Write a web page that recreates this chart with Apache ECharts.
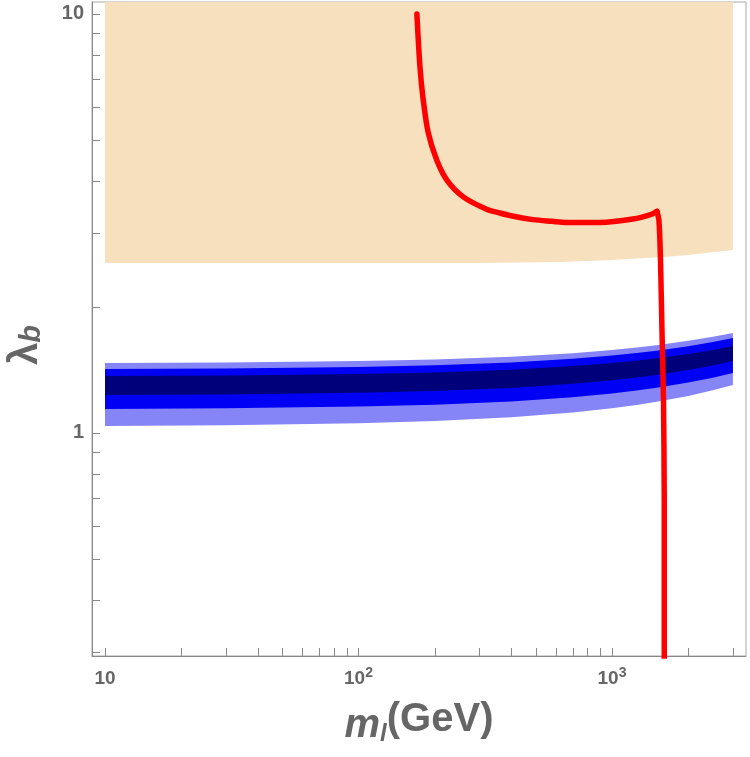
<!DOCTYPE html>
<html>
<head>
<meta charset="utf-8">
<script src="https://cdn.jsdelivr.net/npm/echarts@6/dist/echarts.min.js"></script>
<style>
  html, body { margin: 0; padding: 0; background: #fff; }
  #chart { width: 750px; height: 757px; }
</style>
</head>
<body>
<div id="chart"></div>
<script>
// band masses (GeV) and the edges of the three blue bands
const mBand = [10, 30, 100, 200, 400, 700, 1000, 1250, 1500, 2000, 2500, 3000]
const lightUpper = [1.469, 1.474, 1.485, 1.498, 1.521, 1.550, 1.578, 1.599, 1.620, 1.659, 1.696, 1.733]
const blueUpper = [1.421, 1.426, 1.437, 1.450, 1.473, 1.503, 1.530, 1.551, 1.571, 1.611, 1.648, 1.685]
const darkUpper = [1.368, 1.372, 1.383, 1.395, 1.416, 1.444, 1.469, 1.488, 1.507, 1.544, 1.578, 1.613]
const darkLower = [1.232, 1.236, 1.247, 1.260, 1.281, 1.310, 1.336, 1.356, 1.376, 1.413, 1.449, 1.485]
const blueLower = [1.141, 1.145, 1.156, 1.168, 1.189, 1.217, 1.243, 1.263, 1.282, 1.319, 1.355, 1.390]
const lightLower = [1.039, 1.043, 1.055, 1.068, 1.090, 1.119, 1.145, 1.166, 1.187, 1.226, 1.264, 1.302]

// excluded (tan) region, lower edge
const mTan = [10, 100, 300, 630, 1000, 1600, 2000, 3000]
const tanLower = [2.545, 2.545, 2.545, 2.559, 2.588, 2.630, 2.659, 2.734]

// red contour: curved part, then the near-vertical drop after the kink
const redM = [170, 174.8, 180.1, 188.5, 203.5, 222.8, 259, 320, 361, 408, 488, 580, 664, 897, 1210, 1420, 1505]
const redL = [10, 7.47, 6.23, 5.20, 4.48, 4.02, 3.66, 3.42, 3.35, 3.29, 3.23, 3.20, 3.18, 3.18, 3.24, 3.32, 3.38]
const dropM = [1505, 1532, 1554, 1575, 1597, 1608, 1608]
const dropL = [3.38, 3.22, 2.59, 1.76, 1.20, 0.692, 0.28]

// tick values
const xMajor = [10, 100, 1000]
const xMinor = [20, 30, 40, 50, 60, 70, 80, 90, 200, 300, 400, 500, 600, 700, 800, 900, 2000, 3000]
const yTicks = [0.3, 0.4, 0.5, 0.6, 0.7, 0.8, 0.9, 1, 2, 3, 4, 5, 6, 7, 8, 9, 10]

const chart = echarts.init(document.getElementById('chart'))

const labelColor = '#666'
const fontFam = '"Liberation Sans", Arial, sans-serif'

function isPow10(v) {
    const l = Math.log10(v)
    return Math.abs(l - Math.round(l)) < 1e-6
}

function bandItem(upper, lower, xs, color) {
    return function(params, api) {
        const pts = []
        for (let i = 0; i < xs.length; i++) pts.push(api.coord([xs[i], upper[i]]))
        for (let i = xs.length - 1; i >= 0; i--) pts.push(api.coord([xs[i], lower[i]]))
        return {type: 'polygon', shape: {points: pts}, style: {fill: color}}
    }
}

function tanItem(params, api) {
    const cs = params.coordSys
    const pts = []
    pts.push([api.coord([mTan[0], 1])[0], cs.y])
    pts.push([api.coord([mTan[mTan.length - 1], 1])[0], cs.y])
    for (let i = mTan.length - 1; i >= 0; i--) pts.push(api.coord([mTan[i], tanLower[i]]))
    return {type: 'polygon', shape: {points: pts}, style: {fill: '#F6E0BE'}}
}

function xTickItem(params, api) {
    const cs = params.coordSys
    const p = api.coord([api.value(0), 1])
    const x = Math.round(p[0]) + 0.5
    const yb = cs.y + cs.height
    return {type: 'line', shape: {x1: x, y1: yb, x2: x, y2: yb - 8}, style: {stroke: '#888', lineWidth: 1}}
}

function yTickItem(params, api) {
    const cs = params.coordSys
    const p = api.coord([10, api.value(1)])
    const y = Math.round(p[1]) + 0.5
    return {type: 'line', shape: {x1: cs.x, y1: y, x2: cs.x + 8, y2: y}, style: {stroke: '#888', lineWidth: 1}}
}

const polySeries = (render) => ({
    type: 'custom',
    renderItem: render,
    data: [[10, 1]],
    clip: true,
    silent: true
})

const redLine = (xs, ys, smooth) => ({
    type: 'line',
    data: xs.map((m, i) => [m, ys[i]]),
    showSymbol: false,
    smooth: smooth,
    clip: true,
    lineStyle: {color: '#FF0000', width: 5.5, join: 'round', cap: 'round'},
    silent: true
})

const option = {
    animation: false,
    backgroundColor: '#fff',
    grid: {
        left: 92, right: 4, top: 2, bottom: 101,
        outerBoundsMode: 'none',
        containLabel: false,
        show: true,
        borderColor: '#a8a8a8',
        borderWidth: 1,
        backgroundColor: 'transparent'
    },
    xAxis: {
        type: 'log',
        logBase: 10,
        min: 8.886,
        max: 3379,
        splitLine: {show: false},
        axisTick: {show: false},
        axisLine: {show: true, onZero: false, lineStyle: {color: '#888', width: 1}},
        axisLabel: {
            margin: 10,
            showMinLabel: false,
            showMaxLabel: false,
            formatter: function(v) {
                if (!isPow10(v)) return ''
                const e = Math.round(Math.log10(v))
                if (e === 1) return '{b|10}'
                return '{b|10}{s|' + e + '}'
            },
            rich: {
                b: {fontSize: 19, fontWeight: 'bold', color: labelColor, fontFamily: fontFam, lineHeight: 22, verticalAlign: 'bottom'},
                s: {fontSize: 14, fontWeight: 'bold', color: labelColor, fontFamily: fontFam, lineHeight: 14, verticalAlign: 'top'}
            }
        },
        name: '{m|m}{sub|l}{n|(GeV)}',
        nameLocation: 'middle',
        nameGap: 44,
        nameTextStyle: {
            rich: {
                m: {fontSize: 40, fontWeight: 'bold', fontStyle: 'italic', color: labelColor, fontFamily: fontFam, lineHeight: 46, verticalAlign: 'bottom'},
                sub: {fontSize: 24, fontWeight: 'bold', fontStyle: 'italic', color: labelColor, fontFamily: fontFam, lineHeight: 24, verticalAlign: 'bottom'},
                n: {fontSize: 40, fontWeight: 'bold', color: labelColor, fontFamily: fontFam, lineHeight: 40, verticalAlign: 'top'}
            }
        }
    },
    yAxis: {
        type: 'log',
        logBase: 10,
        min: 0.2936,
        max: 10.68,
        splitLine: {show: false},
        axisTick: {show: false},
        axisLine: {show: true, onZero: false, lineStyle: {color: '#888', width: 1}},
        axisLabel: {
            margin: 8,
            showMinLabel: false,
            showMaxLabel: false,
            fontSize: 20,
            fontWeight: 'bold',
            color: labelColor,
            fontFamily: fontFam,
            formatter: function(v) {
                if (!isPow10(v)) return ''
                return String(Math.round(v))
            }
        },
        name: '{l|λ}{sub|b}',
        nameLocation: 'middle',
        nameRotate: 90,
        nameGap: 46,
        nameTextStyle: {
            padding: [0, 32, 0, 0],
            rich: {
                l: {fontSize: 40, fontWeight: 'bold', color: labelColor, fontFamily: fontFam, lineHeight: 40, verticalAlign: 'top'},
                sub: {fontSize: 29, fontWeight: 'bold', fontStyle: 'italic', color: labelColor, fontFamily: fontFam, lineHeight: 29, verticalAlign: 'bottom'}
            }
        }
    },
    series: [
        polySeries(tanItem),
        polySeries(bandItem(lightUpper, lightLower, mBand, '#8585F8')),
        polySeries(bandItem(blueUpper, blueLower, mBand, '#0000F5')),
        polySeries(bandItem(darkUpper, darkLower, mBand, '#00007A')),
        redLine(redM, redL, 0.3),
        redLine(dropM, dropL, 0.2),
        {
            type: 'custom',
            renderItem: xTickItem,
            data: xMajor.concat(xMinor).map(v => [v, 1]),
            silent: true
        },
        {
            type: 'custom',
            renderItem: yTickItem,
            data: yTicks.map(v => [10, v]),
            encode: {x: 0, y: 1},
            silent: true
        }
    ]
}

chart.setOption(option)
</script>
</body>
</html>
